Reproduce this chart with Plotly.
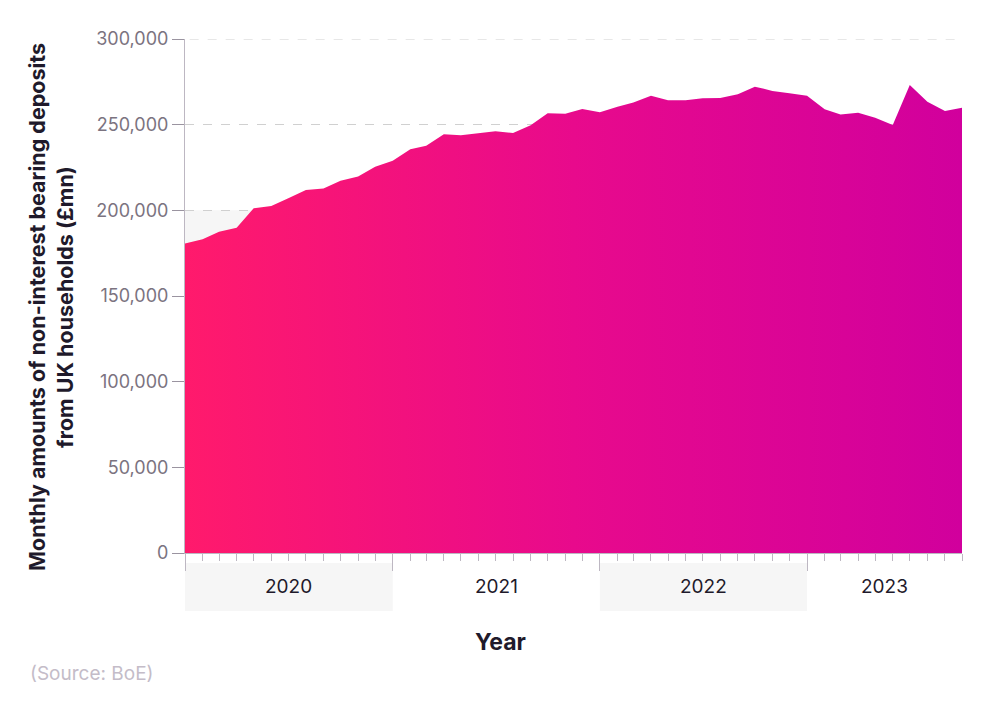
import pandas as pd
import plotly.graph_objects as go

# Monthly data, Jan 2020 - Oct 2023 (£mn)
months = pd.date_range("2020-01-01", periods=46, freq="MS")
deposits = [
    180700, 183100, 187500, 189900, 201200, 202500, 207000, 211900, 212800, 217300, 219700, 225500,
    229000, 235600, 237700, 244400, 243800, 245100, 246100, 245100, 249600, 256600, 256300, 259100,
    257200, 260500, 263000, 266900, 264200, 264200, 265400, 265600, 267700, 272200, 269700, 268300,
    266900, 259000, 256000, 257000, 254100, 249800, 273200, 263400, 258000, 259900,
]
years = ["2020", "2021", "2022", "2023"]
year_starts = ["2020-01-01", "2021-01-01", "2022-01-01", "2023-01-01"]
year_ends = ["2021-01-01", "2022-01-01", "2023-01-01", "2023-10-01"]
y_ticks = [0, 50000, 100000, 150000, 200000, 250000, 300000]

FONT = "Inter, Roboto, sans-serif"

fig = go.Figure()
fig.add_trace(go.Scatter(
    x=months, y=deposits, mode="lines", line=dict(width=0),
    fill="tozeroy",
    fillgradient=dict(type="horizontal",
                      colorscale=[[0, "#ff1a6c"], [0.5, "#e80a8c"], [1, "#d1009d"]]),
    hoverinfo="x+y", showlegend=False,
))

shapes = []
# light band in plot background
shapes.append(dict(type="rect", xref="paper", yref="y", x0=0, x1=1, y0=150000, y1=200000,
                   fillcolor="#f6f6f6", line=dict(width=0), layer="below"))
# top gridline (at range edge)
shapes.append(dict(type="line", xref="paper", yref="y", x0=0.006, x1=1, y0=y_ticks[-1], y1=y_ticks[-1],
                   line=dict(color="#d0d0d0", width=1, dash="dash"), layer="below"))
# year bands below axis
for i, (s, e) in enumerate(zip(year_starts, year_ends)):
    if i % 2 == 0:
        shapes.append(dict(type="rect", xref="x", yref="paper", x0=s, x1=e,
                           y0=-0.1128, y1=-0.0195, fillcolor="#f6f6f6",
                           line=dict(width=0), layer="below"))

annotations = []
for s, e, yr in zip(year_starts, year_ends, years):
    mid = pd.Timestamp(s) + (pd.Timestamp(e) - pd.Timestamp(s)) / 2
    annotations.append(dict(x=mid, y=-0.066, xref="x", yref="paper", text=yr,
                            showarrow=False, font=dict(family=FONT, size=19, color="#1f1a2b"),
                            yanchor="middle"))
annotations.append(dict(x=(500 - 185) / 777, y=-(642 - 553) / 514, xref="paper", yref="paper",
                        text="<b>Year</b>", showarrow=False,
                        font=dict(family=FONT, size=23, color="#1f1a2b"), yanchor="middle"))
annotations.append(dict(x=-(185 - 51) / 777, y=(553 - 307) / 514, xref="paper", yref="paper",
                        text="<b>Monthly amounts of non-interest bearing deposits<br>from UK households (£mn)</b>",
                        textangle=-90, showarrow=False,
                        font=dict(family=FONT, size=21.5, color="#1f1a2b"),
                        xanchor="center", yanchor="middle"))
annotations.append(dict(x=-(185 - 28) / 777, y=-(673 - 553) / 514, xref="paper", yref="paper",
                        text="(Source: BoE)", showarrow=False, xanchor="left",
                        font=dict(family=FONT, size=19, color="#c4bcc8"), yanchor="middle"))

fig.update_layout(
    width=992, height=702,
    margin=dict(l=177, r=38, t=31, b=157),
    paper_bgcolor="white", plot_bgcolor="white",
    shapes=shapes, annotations=annotations,
    font=dict(family=FONT),
)
fig.update_xaxes(
    range=[months[0], months[-1]], showgrid=False, showticklabels=False,
    showline=True, linecolor="#bdb7c2", linewidth=1,
    ticks="outside", tick0="2020-01-01", dtick="M12", ticklen=17, tickcolor="#bdb7c2",
    minor=dict(ticks="outside", dtick="M1", ticklen=7, tickcolor="#bdb7c2", showgrid=False),
    zeroline=False,
)
fig.update_yaxes(
    range=[0, 300000], tickvals=y_ticks, tickformat=",",
    tickfont=dict(family=FONT, size=18, color="#7b7380"),
    showgrid=True, gridcolor="#d0d0d0", griddash="dash", gridwidth=1,
    showline=True, linecolor="#bdb7c2", linewidth=1,
    ticks="outside", ticklen=12, tickcolor="#9a94a0",
    zeroline=False,
)
fig.write_html("out.html")
